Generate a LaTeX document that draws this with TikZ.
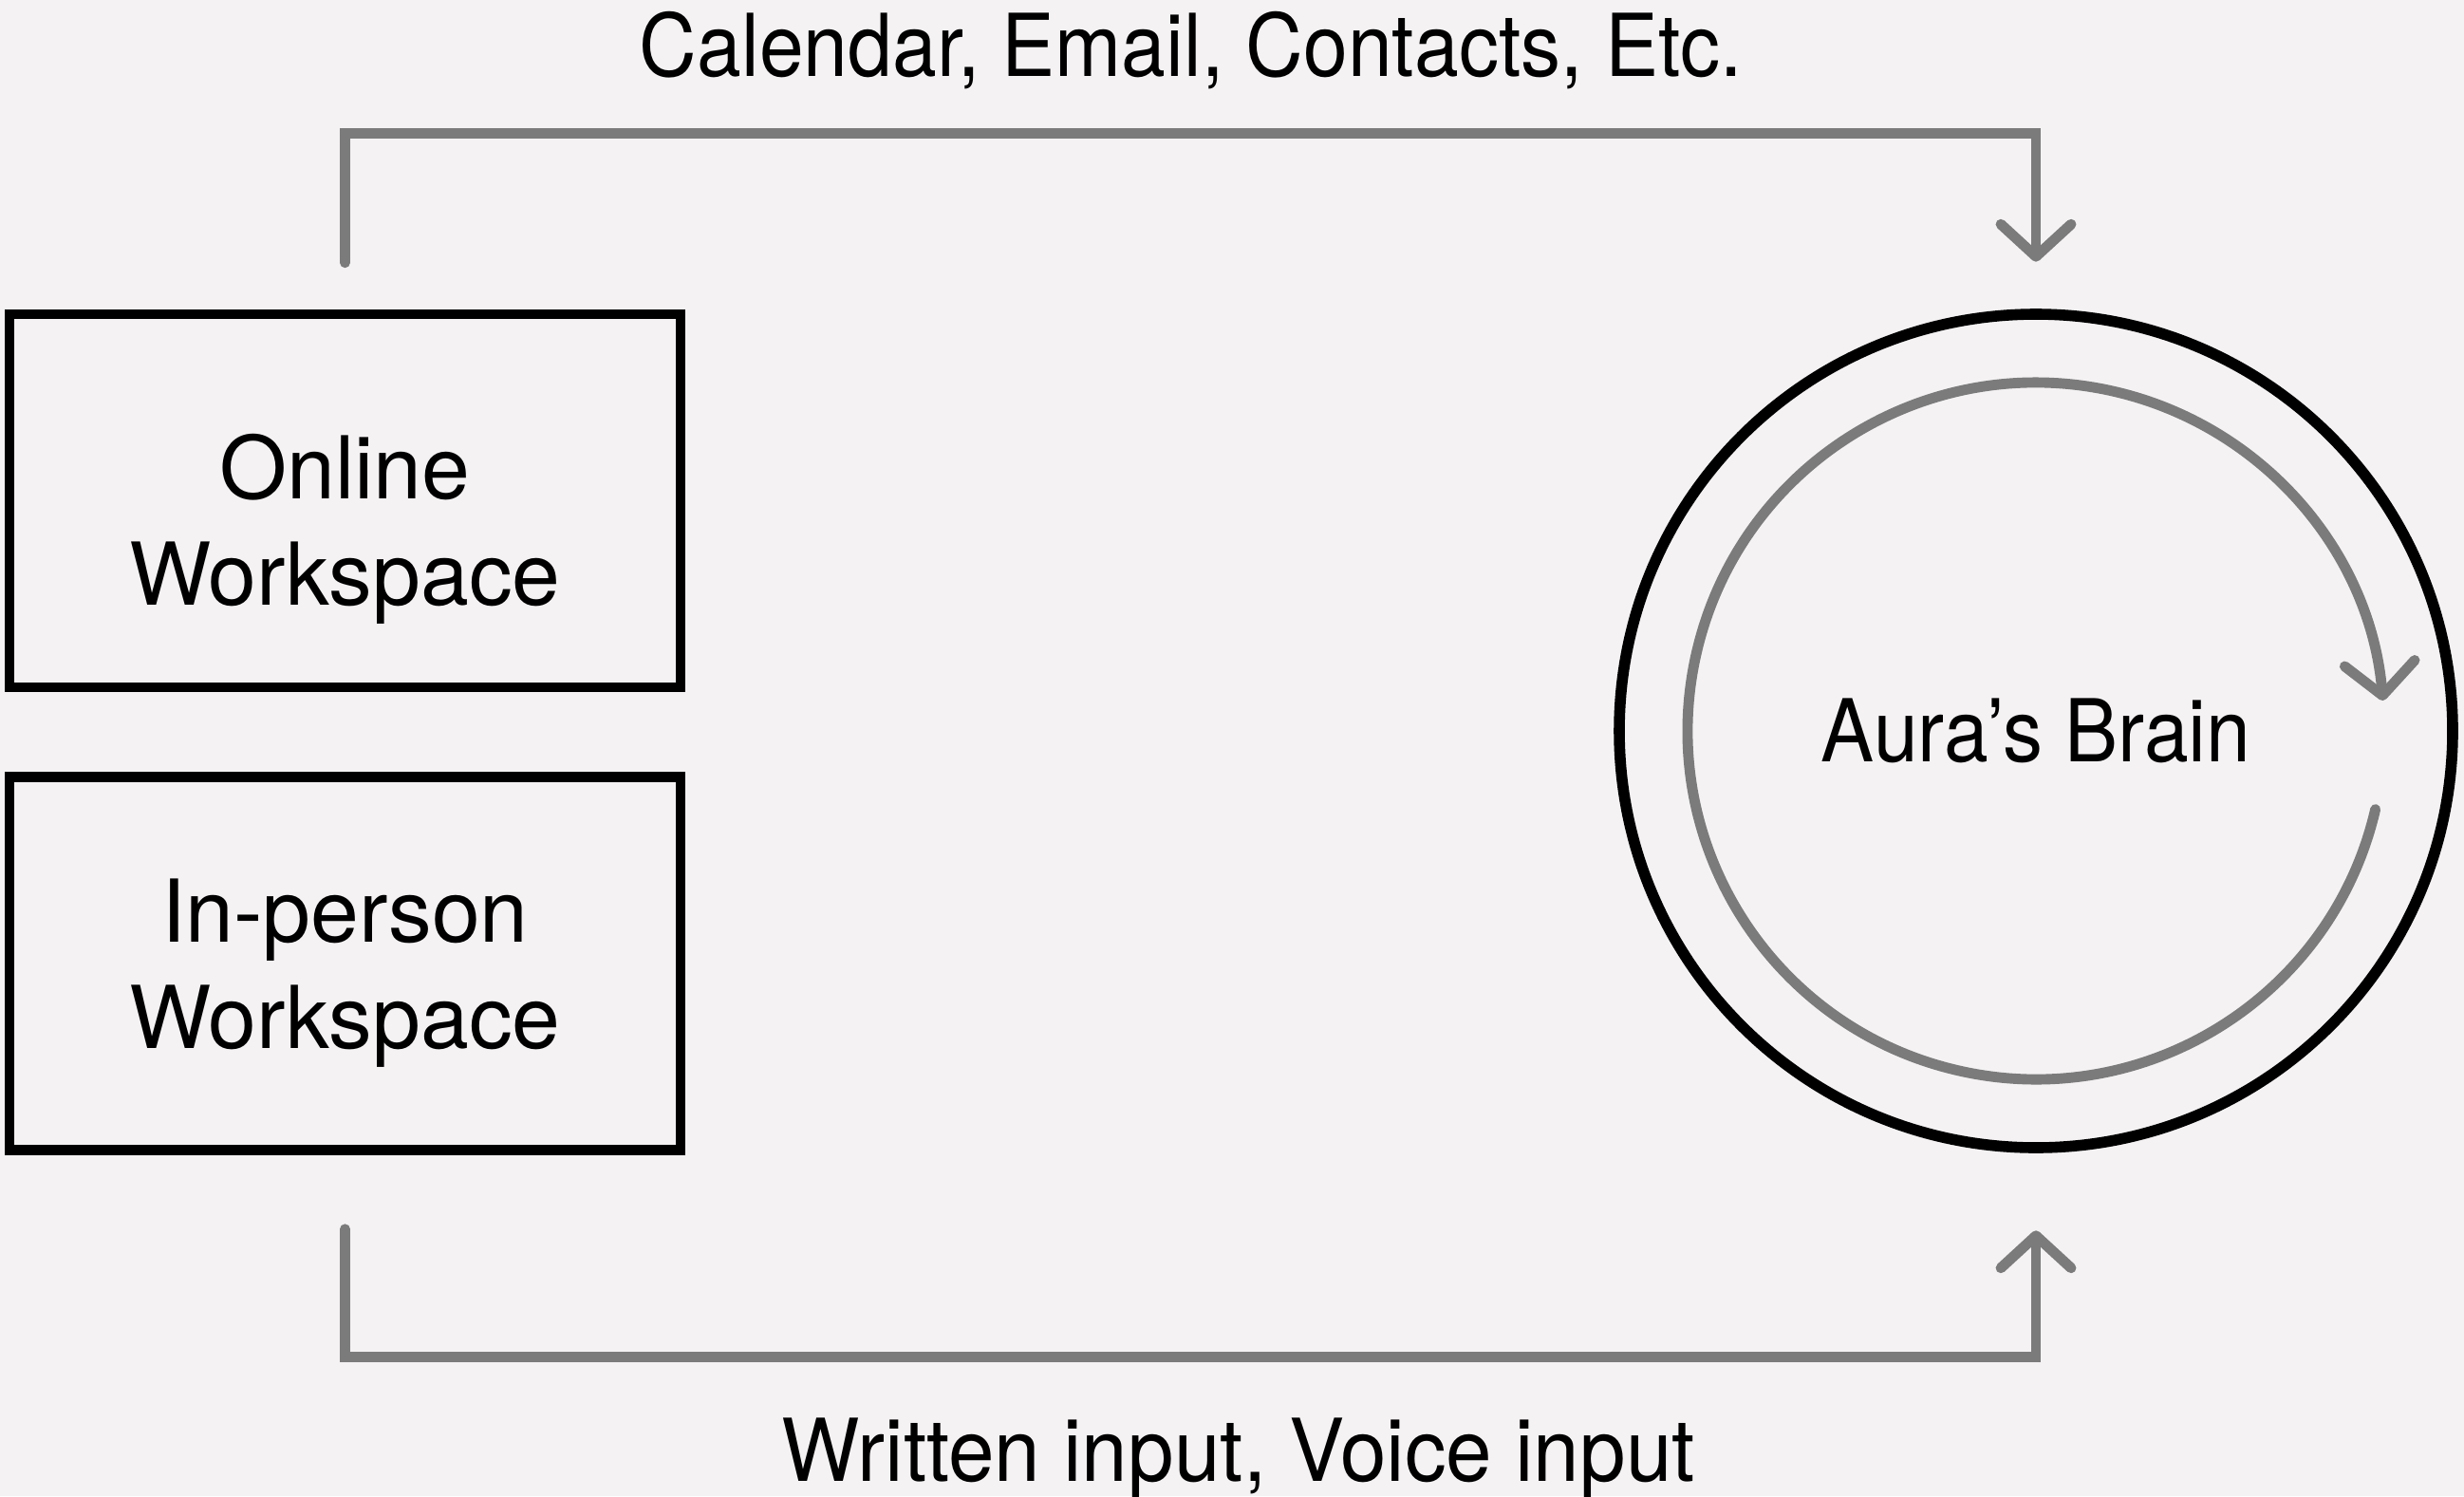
\documentclass[tikz,border=0pt]{standalone}
\usepackage{fontspec}
\setmainfont{TeX Gyre Heros}[FakeStretch=0.92]
\newfontfamily\boxface{TeX Gyre Heros}
\newfontfamily\inputface{TeX Gyre Heros}[FakeStretch=0.955]
\usetikzlibrary{arrows.meta,positioning}
\definecolor{paper}{RGB}{244,242,243}
\definecolor{flow}{RGB}{123,123,123}
\begin{document}
\begin{tikzpicture}[x=1cm,y=1cm,>={Straight Barb[length=3.4mm,width=7.4mm,line cap=round,line join=round]},font=\fontsize{26}{32}\selectfont,
		wsbox/.style={draw,line width=3pt,minimum width=7.07cm,minimum height=3.93cm},
		wstext/.style={align=center,font=\fontsize{26}{32}\selectfont\boxface},
		brainring/.style={draw,circle,line width=3.3pt,minimum size=8.78cm,inner sep=0pt},
		flowline/.style={->,flow,line width=3.1pt,line cap=round},
		loopline/.style={->,flow,line width=3.1pt,line cap=round}]
	\path[use as bounding box,fill=paper] (0,0) rectangle (25.96,-15.76);
	\node[wsbox] (online) at (3.635,-5.275) {};
	\node[wsbox] (inperson) at (3.635,-10.15) {};
	\node[wstext] (onlinetxt) at ([yshift=-3mm]online.center) {Online\\Workspace};
	\node[wstext] (inpersontxt) at ([yshift=-1mm]inperson.center) {In-person\\Workspace};
	\node[brainring] (brain) at (21.45,-7.70) {Aura’s Brain};
	\draw[loopline] ([shift={(-13:3.67)}]brain.center) arc[start angle=-13,end angle=-355,radius=3.67];
	\draw[flowline] ([yshift=4.9mm]online.north) -- ++(0,1.36) -| ([yshift=4.95mm]brain.north);
	\draw[flowline] ([yshift=-7.8mm]inperson.south) -- ++(0,-1.35) -| ([yshift=-8.15mm]brain.south);
	\node[anchor=base] (sources) at (12.55,-0.80) {Calendar, Email, Contacts, Etc.};
	\node[anchor=base,font=\fontsize{26}{32}\selectfont\inputface] (inputs) at (13.05,-15.60) {Written input, Voice input};
\end{tikzpicture}
\end{document}
